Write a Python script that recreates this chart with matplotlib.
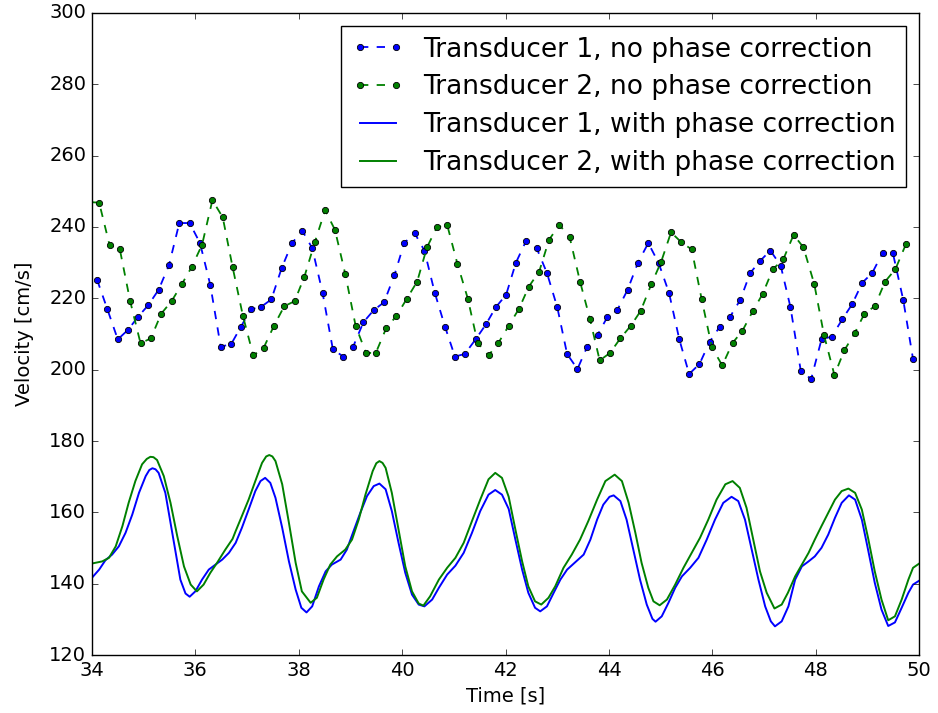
import matplotlib
matplotlib.use("Agg")
import matplotlib.pyplot as plt

plt.style.use("classic")

# sampled velocities, no phase correction (markers)
t_raw_1 = [34.10, 34.30, 34.50, 34.70, 34.89, 35.09, 35.29, 35.49, 35.69, 35.89,
           36.09, 36.29, 36.49, 36.69, 36.88, 37.07, 37.27, 37.47, 37.67, 37.87,
           38.07, 38.26, 38.46, 38.66, 38.86, 39.05, 39.25, 39.45, 39.65, 39.85,
           40.04, 40.24, 40.43, 40.63, 40.83, 41.02, 41.21, 41.42, 41.62, 41.81,
           42.01, 42.20, 42.40, 42.60, 42.80, 43.00, 43.19, 43.39, 43.58, 43.78,
           43.97, 44.16, 44.36, 44.56, 44.76, 44.96, 45.16, 45.36, 45.55, 45.75,
           45.95, 46.14, 46.34, 46.54, 46.73, 46.93, 47.12, 47.32, 47.51, 47.71,
           47.91, 48.11, 48.31, 48.51, 48.70, 48.90, 49.09, 49.29, 49.49, 49.69,
           49.88]
v_raw_1 = [225.2, 216.9, 208.5, 211.2, 214.8, 218.1, 222.4, 229.3, 241.1, 241.1,
           235.5, 223.7, 206.5, 207.1, 212.0, 216.9, 217.6, 219.7, 228.5, 235.5,
           238.9, 234.1, 221.6, 205.7, 203.7, 206.4, 213.3, 216.7, 218.9, 226.5,
           235.5, 238.3, 233.4, 221.6, 212.0, 203.7, 204.4, 208.5, 212.7, 217.5,
           221.0, 230.0, 236.2, 234.1, 227.1, 217.5, 204.4, 200.2, 206.5, 209.8,
           214.8, 216.7, 222.4, 230.0, 235.5, 229.9, 221.6, 208.5, 198.8, 201.6,
           207.9, 212.0, 214.8, 219.6, 227.1, 230.6, 233.4, 229.2, 217.5, 199.6,
           197.4, 208.5, 209.3, 214.1, 218.3, 224.4, 227.1, 232.7, 232.7, 219.6,
           203.0]

t_raw_2 = [33.94, 34.14, 34.34, 34.54, 34.74, 34.94, 35.14, 35.34, 35.54, 35.74,
           35.93, 36.13, 36.33, 36.53, 36.72, 36.92, 37.12, 37.32, 37.52, 37.72,
           37.92, 38.11, 38.31, 38.51, 38.70, 38.90, 39.10, 39.30, 39.49, 39.69,
           39.89, 40.09, 40.29, 40.48, 40.67, 40.87, 41.07, 41.27, 41.46, 41.67,
           41.86, 42.06, 42.26, 42.45, 42.65, 42.84, 43.04, 43.24, 43.44, 43.63,
           43.82, 44.02, 44.22, 44.42, 44.61, 44.82, 45.01, 45.20, 45.40, 45.60,
           45.79, 45.99, 46.19, 46.39, 46.58, 46.78, 46.97, 47.17, 47.37, 47.57,
           47.76, 47.97, 48.16, 48.36, 48.55, 48.75, 48.94, 49.14, 49.34, 49.54,
           49.74]
v_raw_2 = [247.0, 246.8, 235.0, 233.7, 219.2, 207.4, 208.8, 215.7, 219.2, 224.0,
           228.8, 235.0, 247.5, 242.7, 228.8, 215.1, 204.0, 206.1, 212.3, 217.8,
           219.2, 226.1, 235.7, 244.7, 239.2, 226.8, 212.3, 204.7, 204.7, 211.6,
           215.1, 219.9, 224.7, 234.3, 239.9, 240.6, 229.6, 219.9, 207.5, 204.0,
           207.5, 212.3, 217.1, 223.3, 227.5, 236.4, 240.6, 237.1, 224.7, 214.3,
           202.6, 204.7, 208.8, 212.3, 216.4, 224.0, 230.3, 238.5, 235.7, 233.7,
           219.9, 206.3, 201.2, 207.5, 210.9, 216.4, 221.2, 228.2, 230.9, 237.8,
           234.3, 224.0, 209.6, 198.5, 205.4, 210.2, 215.7, 217.8, 224.7, 228.2,
           235.1]

# velocities with phase correction (solid curves)
t_cor_1 = [34.00, 34.14, 34.26, 34.39, 34.52, 34.65, 34.78, 34.91, 35.04, 35.11,
           35.17, 35.23, 35.29, 35.42, 35.52, 35.62, 35.71, 35.81, 35.89, 36.00,
           36.13, 36.26, 36.39, 36.52, 36.65, 36.78, 36.90, 37.03, 37.16, 37.26,
           37.35, 37.45, 37.55, 37.68, 37.81, 37.94, 38.05, 38.15, 38.26, 38.39,
           38.52, 38.64, 38.81, 38.93, 39.06, 39.19, 39.32, 39.45, 39.56, 39.68,
           39.80, 39.93, 40.06, 40.19, 40.32, 40.43, 40.58, 40.71, 40.87, 41.03,
           41.19, 41.35, 41.51, 41.67, 41.80, 41.93, 42.06, 42.19, 42.32, 42.44,
           42.57, 42.67, 42.80, 42.93, 43.06, 43.19, 43.35, 43.51, 43.64, 43.77,
           43.89, 44.01, 44.09, 44.22, 44.34, 44.47, 44.60, 44.73, 44.84, 44.90,
           45.02, 45.15, 45.28, 45.41, 45.57, 45.73, 45.89, 46.05, 46.21, 46.37,
           46.50, 46.63, 46.76, 46.89, 47.02, 47.13, 47.21, 47.34, 47.47, 47.60,
           47.73, 47.86, 47.98, 48.11, 48.24, 48.37, 48.50, 48.64, 48.76, 48.89,
           49.01, 49.14, 49.27, 49.40, 49.53, 49.66, 49.79, 49.88, 50.00]
v_cor_1 = [141.7, 144.0, 146.6, 148.2, 150.5, 154.3, 159.4, 165.5, 170.2, 171.9,
           172.4, 172.1, 171.1, 165.5, 157.1, 148.7, 141.2, 137.3, 136.4, 137.9,
           141.2, 144.0, 145.4, 146.8, 148.7, 151.5, 155.7, 160.8, 166.0, 168.8,
           169.7, 168.3, 164.1, 155.7, 146.3, 138.4, 133.3, 132.0, 133.7, 139.3,
           143.5, 145.4, 146.8, 149.6, 154.8, 159.9, 164.6, 167.4, 168.1, 166.5,
           160.4, 151.5, 143.1, 137.0, 134.2, 133.7, 135.6, 138.9, 142.6, 145.1,
           148.7, 154.3, 160.4, 165.0, 166.3, 165.0, 161.0, 152.4, 144.0, 137.5,
           133.3, 132.3, 133.7, 137.5, 141.2, 144.0, 146.1, 148.2, 152.4, 158.0,
           162.2, 164.4, 164.8, 163.2, 158.0, 149.6, 141.2, 134.2, 130.2, 129.4,
           130.9, 134.7, 138.9, 142.1, 144.5, 147.3, 152.4, 158.0, 162.7, 164.4,
           163.2, 158.0, 149.6, 141.2, 133.7, 129.5, 128.1, 129.5, 133.7, 141.2,
           144.9, 146.3, 147.7, 150.1, 153.8, 158.5, 162.7, 164.8, 163.6, 158.0,
           149.6, 140.3, 132.8, 128.2, 129.2, 133.3, 137.5, 139.8, 140.9]

t_cor_2 = [34.00, 34.20, 34.33, 34.46, 34.59, 34.71, 34.84, 34.97, 35.06, 35.13,
           35.19, 35.26, 35.39, 35.52, 35.65, 35.78, 35.91, 36.03, 36.16, 36.29,
           36.42, 36.58, 36.72, 36.78, 36.90, 37.03, 37.16, 37.29, 37.37, 37.43,
           37.49, 37.55, 37.68, 37.81, 37.94, 38.06, 38.23, 38.35, 38.48, 38.61,
           38.74, 38.90, 39.03, 39.16, 39.29, 39.43, 39.50, 39.56, 39.62, 39.68,
           39.80, 39.93, 40.06, 40.19, 40.32, 40.41, 40.54, 40.71, 40.87, 41.03,
           41.19, 41.35, 41.51, 41.67, 41.80, 41.93, 42.06, 42.19, 42.32, 42.44,
           42.57, 42.69, 42.83, 42.96, 43.12, 43.28, 43.44, 43.60, 43.77, 43.93,
           44.11, 44.25, 44.38, 44.51, 44.63, 44.76, 44.86, 44.98, 45.12, 45.28,
           45.44, 45.60, 45.76, 45.92, 46.08, 46.25, 46.39, 46.53, 46.66, 46.79,
           46.92, 47.05, 47.20, 47.34, 47.46, 47.60, 47.73, 47.86, 47.98, 48.11,
           48.24, 48.37, 48.50, 48.63, 48.76, 48.89, 49.01, 49.14, 49.27, 49.40,
           49.53, 49.66, 49.79, 49.88, 50.00]
v_cor_2 = [145.7, 146.3, 147.3, 150.5, 156.2, 162.7, 168.8, 173.5, 175.0, 175.6,
           175.5, 174.7, 170.2, 162.7, 153.4, 144.9, 139.8, 137.9, 139.8, 143.1,
           145.9, 149.6, 152.6, 154.8, 159.0, 163.6, 168.8, 173.9, 175.7, 176.1,
           175.7, 174.4, 167.9, 157.1, 145.9, 137.9, 134.7, 136.1, 141.2, 145.4,
           147.7, 149.6, 152.4, 158.0, 165.0, 171.6, 173.8, 174.4, 173.9, 172.5,
           165.5, 155.2, 144.9, 137.9, 134.5, 133.9, 136.5, 141.2, 144.5, 147.3,
           151.5, 157.6, 163.6, 169.3, 171.1, 169.7, 164.4, 155.2, 146.3, 139.3,
           135.1, 134.2, 136.1, 139.3, 144.5, 148.2, 152.4, 157.6, 163.6, 168.8,
           170.6, 168.8, 162.7, 154.3, 145.9, 138.9, 135.1, 134.0, 135.6, 139.8,
           144.5, 148.7, 152.9, 158.0, 163.6, 167.9, 168.8, 166.9, 161.3, 152.4,
           143.5, 137.5, 133.1, 134.2, 137.5, 142.1, 145.4, 148.7, 152.4, 156.2,
           159.9, 163.6, 166.0, 166.7, 165.5, 160.8, 152.9, 143.5, 135.6, 129.8,
           130.9, 135.6, 141.2, 144.5, 145.7]

fig = plt.figure(figsize=(9.38, 7.13), dpi=100, facecolor="white")
ax = fig.add_axes([0.098, 0.081, 0.882, 0.901])

ax.plot(t_raw_1, v_raw_1, "b--o", lw=1.3, markersize=4.5, mec="k", mew=0.6,
        label="Transducer 1, no phase correction")
ax.plot(t_raw_2, v_raw_2, "g--o", lw=1.3, markersize=4.5, mec="k", mew=0.6,
        label="Transducer 2, no phase correction")
ax.plot(t_cor_1, v_cor_1, "b-", lw=1.4, label="Transducer 1, with phase correction")
ax.plot(t_cor_2, v_cor_2, "g-", lw=1.4, label="Transducer 2, with phase correction")

ax.set_xlim(34, 50)
ax.set_ylim(120, 300)
ax.set_xticks(range(34, 51, 2))
ax.set_yticks(range(120, 301, 20))
ax.tick_params(labelsize=14)
ax.set_xlabel("Time [s]", fontsize=14)
ax.set_ylabel("Velocity [cm/s]", fontsize=14, labelpad=11)

leg = ax.legend(loc="upper right", fontsize=19, numpoints=2, fancybox=False,
                borderaxespad=0.5, handlelength=2.0, handletextpad=0.7,
                labelspacing=0.45)
leg.get_frame().set_edgecolor("k")

fig.savefig("out.png", dpi=100, facecolor="white")
